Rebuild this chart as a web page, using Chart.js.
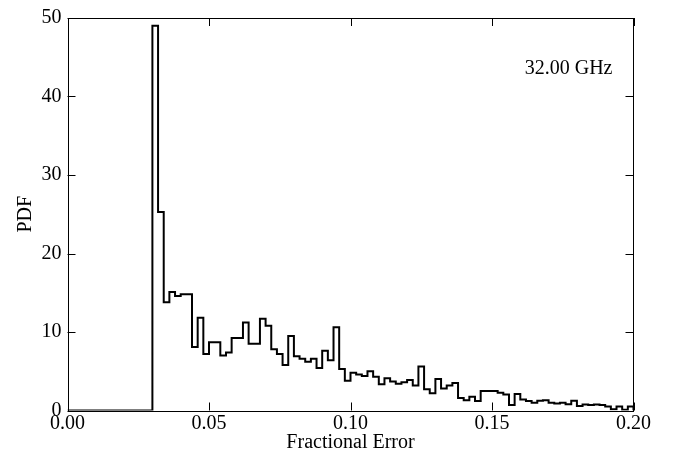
<!DOCTYPE html>
<html>
<head>
<meta charset="utf-8">
<script src="https://cdn.jsdelivr.net/npm/chart.js@4/dist/chart.umd.min.js"></script>
<style>
html,body{margin:0;padding:0;background:#fff;}
#wrap{width:675px;height:462px;position:relative;}
</style>
</head>
<body>
<div id="wrap"><canvas id="c" width="675" height="462"></canvas></div>
<script>
// Histogram: 100 bins of width 0.002 from 0.00 to 0.20
const binWidth = 0.002;
const binCount = 100;
const binEdges = Array.from({length: binCount + 1}, (_, i) => +(i * binWidth).toFixed(3));

// PDF value of each bin
const pdf = [
  // 0.000 - 0.030 : empty
  0,0,0,0,0, 0,0,0,0,0, 0,0,0,0,0,
  // 0.030 - 0.050
  49.0, 25.3, 13.8, 15.1, 14.6, 14.8, 14.8, 8.1, 11.8, 7.2,
  // 0.050 - 0.070
  8.7, 8.7, 7.0, 7.4, 9.25, 9.25, 11.2, 8.5, 8.5, 11.7,
  // 0.070 - 0.090
  10.8, 7.8, 7.2, 5.8, 9.5, 6.9, 6.6, 6.2, 6.6, 5.4,
  // 0.090 - 0.110
  7.6, 6.4, 10.6, 5.3, 3.8, 4.8, 4.6, 4.4, 5.0, 4.3,
  // 0.110 - 0.130
  3.35, 4.1, 3.7, 3.4, 3.6, 3.9, 3.2, 5.6, 2.7, 2.2,
  // 0.130 - 0.150
  4.0, 2.8, 3.2, 3.5, 1.6, 1.3, 1.75, 1.2, 2.5, 2.5,
  // 0.150 - 0.170
  2.5, 2.25, 2.05, 0.7, 2.1, 1.4, 1.2, 1.0, 1.25, 1.3,
  // 0.170 - 0.190
  1.0, 0.9, 1.0, 0.8, 1.25, 0.57, 0.78, 0.7, 0.78, 0.7,
  // 0.190 - 0.200
  0.5, 0.15, 0.5, 0.1, 0.5
];

const xTicks = [0.00, 0.05, 0.10, 0.15, 0.20];
const yTicks = [0, 10, 20, 30, 40, 50];
const xLabel = 'Fractional Error';
const yLabel = 'PDF';
const annotation = '32.00 GHz';

// step outline points (edge, value), closing down to zero at the last edge
const stepPoints = [{x: binEdges[0], y: 0}];
pdf.forEach((v, i) => stepPoints.push({x: binEdges[i], y: v}));
stepPoints.push({x: binEdges[binCount], y: pdf[binCount - 1]});
stepPoints.push({x: binEdges[binCount], y: 0});

const FONT = "'Liberation Serif', 'DejaVu Serif', serif";

const framePlugin = {
  id: 'frame',
  afterDraw(chart) {
    const {ctx, chartArea: a, scales} = chart;
    ctx.save();
    ctx.strokeStyle = '#000';
    ctx.lineWidth = 1;
    ctx.strokeRect(Math.round(a.left) + 0.5, Math.round(a.top) + 0.5,
                   Math.round(a.right - a.left) - 1, Math.round(a.bottom - a.top));
    const L = 8;
    ctx.beginPath();
    xTicks.forEach(t => {
      const px = Math.round(scales.x.getPixelForValue(t)) + 0.5;
      ctx.moveTo(px, a.bottom); ctx.lineTo(px, a.bottom - L);
      ctx.moveTo(px, a.top); ctx.lineTo(px, a.top + L);
    });
    yTicks.forEach(t => {
      const py = Math.round(scales.y.getPixelForValue(t)) + 0.5;
      ctx.moveTo(a.left, py); ctx.lineTo(a.left + L, py);
      ctx.moveTo(a.right, py); ctx.lineTo(a.right - L, py);
    });
    ctx.stroke();
    ctx.fillStyle = '#000';
    ctx.font = "20px " + FONT;
    ctx.textAlign = 'right';
    ctx.textBaseline = 'alphabetic';
    ctx.fillText(annotation, a.right - 21, a.top + 56);
    ctx.restore();
  }
};

new Chart(document.getElementById('c'), {
  type: 'line',
  data: {
    datasets: [{
      data: stepPoints,
      stepped: 'before',
      borderColor: '#000',
      borderWidth: 2,
      pointRadius: 0,
      fill: false,
      tension: 0
    }]
  },
  options: {
    responsive: false,
    animation: false,
    layout: {padding: {left: 10, right: 41.5, top: 15, bottom: 5}},
    plugins: {legend: {display: false}, tooltip: {enabled: false}},
    scales: {
      x: {
        type: 'linear', min: 0, max: 0.2,
        afterBuildTicks: s => { s.ticks = xTicks.map(v => ({value: v})); },
        afterFit: s => { s.height = 46.5; },
        grid: {display: false, drawTicks: false},
        border: {display: false},
        ticks: {
          color: '#000', padding: 1,
          font: {family: FONT, size: 20},
          callback: v => v.toFixed(2),
          maxRotation: 0
        },
        title: {display: true, text: xLabel, color: '#000', font: {family: FONT, size: 20}, padding: {top: 0, bottom: 2}}
      },
      y: {
        type: 'linear', min: 0, max: 50,
        afterBuildTicks: s => { s.ticks = yTicks.map(v => ({value: v})); },
        afterFit: s => { s.width = 57.5; },
        grid: {display: false, drawTicks: false},
        border: {display: false},
        ticks: {
          color: '#000', padding: 6,
          font: {family: FONT, size: 20}
        },
        title: {display: true, text: yLabel, color: '#000', font: {family: FONT, size: 20}, padding: {top: 4, bottom: 4}}
      }
    }
  },
  plugins: [framePlugin]
});
</script>
</body>
</html>
